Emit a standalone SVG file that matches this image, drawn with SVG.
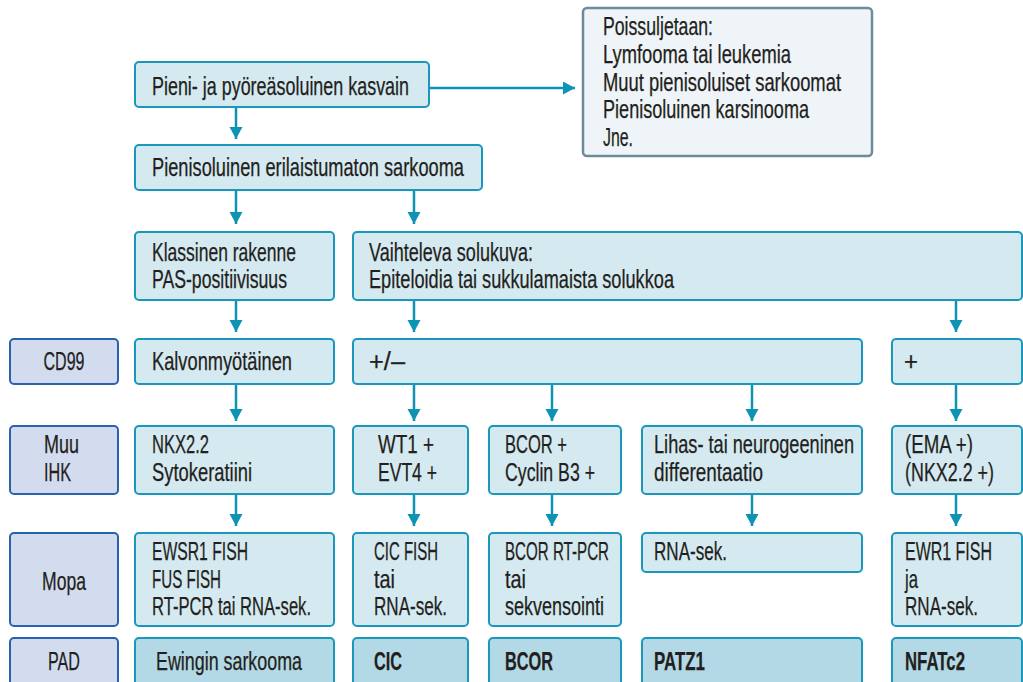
<svg xmlns="http://www.w3.org/2000/svg" width="1023" height="682" viewBox="0 0 1023 682">
<style>
.b{fill:#d5e9f0;stroke:#1a98bb;stroke-width:2}
.d{fill:#b2d9e5;stroke:#1a98bb;stroke-width:2}
.l{fill:#d3dbef;stroke:#2a63ad;stroke-width:2}
.g{fill:#eef4f7;stroke:#6c8b9b;stroke-width:2.5}
text{font-family:"Liberation Sans Narrow","Liberation Sans",Arial,sans-serif;font-size:25px;fill:#231f20;stroke:#231f20;stroke-width:0.25}
.bo{font-weight:bold}
.c{text-anchor:middle}
.a{stroke:#0f93b4;stroke-width:2.5;fill:none;marker-end:url(#ah)}
</style>
<defs>
<marker id="ah" markerUnits="userSpaceOnUse" markerWidth="14" markerHeight="14" refX="12" refY="6.5" orient="auto">
<path d="M0,0 L12,6.5 L0,13 Z" fill="#0f93b4"/>
</marker>
</defs>
<rect width="1023" height="682" fill="#ffffff"/>
<g id="connectors">
<path class="a" d="M236,107 V139"/>
<path class="a" d="M429,88 H575"/>
<path class="a" d="M236,190 V224"/>
<path class="a" d="M414,190 V224"/>
<path class="a" d="M236,300 V332"/>
<path class="a" d="M414,300 V332"/>
<path class="a" d="M956,300 V332"/>
<path class="a" d="M236,384 V421"/>
<path class="a" d="M414,384 V421"/>
<path class="a" d="M552,384 V421"/>
<path class="a" d="M752,384 V421"/>
<path class="a" d="M956,384 V421"/>
<path class="a" d="M236,494 V526"/>
<path class="a" d="M414,494 V526"/>
<path class="a" d="M552,494 V526"/>
<path class="a" d="M752,494 V526"/>
<path class="a" d="M956,494 V526"/>
</g>
<g id="n-start"><rect class="b" x="135" y="62" width="294" height="45" rx="4"/><text x="152" y="95" textLength="257" lengthAdjust="spacingAndGlyphs">Pieni- ja pyöreäsoluinen kasvain</text></g>
<g id="n-exclude"><rect class="g" x="583" y="8" width="289" height="148" rx="4"/>
<text x="603" y="35" textLength="110" lengthAdjust="spacingAndGlyphs">Poissuljetaan:</text>
<text x="603" y="63" textLength="188" lengthAdjust="spacingAndGlyphs">Lymfooma tai leukemia</text>
<text x="603" y="91" textLength="238" lengthAdjust="spacingAndGlyphs">Muut pienisoluiset sarkoomat</text>
<text x="603" y="118" textLength="206" lengthAdjust="spacingAndGlyphs">Pienisoluinen karsinooma</text>
<text x="603" y="146" textLength="30" lengthAdjust="spacingAndGlyphs">Jne.</text></g>
<g id="n-undiff"><rect class="b" x="135" y="145" width="347" height="45" rx="4"/><text x="152" y="176" textLength="312" lengthAdjust="spacingAndGlyphs">Pienisoluinen erilaistumaton sarkooma</text></g>
<g id="n-classic"><rect class="b" x="135" y="232" width="199" height="68" rx="4"/>
<text x="152" y="261" textLength="144" lengthAdjust="spacingAndGlyphs">Klassinen rakenne</text>
<text x="152" y="288" textLength="135" lengthAdjust="spacingAndGlyphs">PAS-positiivisuus</text></g>
<g id="n-variable"><rect class="b" x="353" y="232" width="669" height="68" rx="4"/>
<text x="369" y="261" textLength="164" lengthAdjust="spacingAndGlyphs">Vaihteleva solukuva:</text>
<text x="369" y="288" textLength="305" lengthAdjust="spacingAndGlyphs">Epiteloidia tai sukkulamaista solukkoa</text></g>
<g id="l-cd99"><rect class="l" x="10" y="339" width="108" height="45" rx="4"/><text class="c" x="64" y="370" textLength="41" lengthAdjust="spacingAndGlyphs">CD99</text></g>
<g id="n-membr"><rect class="b" x="135" y="339" width="199" height="45" rx="4"/><text x="152" y="370" textLength="140" lengthAdjust="spacingAndGlyphs">Kalvonmyötäinen</text></g>
<g id="n-pm"><rect class="b" x="353" y="339" width="509" height="45" rx="4"/><text x="369" y="370" textLength="36" lengthAdjust="spacingAndGlyphs">+/–</text></g>
<g id="n-plus"><rect class="b" x="892" y="339" width="130" height="45" rx="4"/><text x="904" y="370" textLength="14" lengthAdjust="spacingAndGlyphs">+</text></g>
<g id="l-ihk"><rect class="l" x="10" y="426" width="108" height="68" rx="4"/>
<text x="44" y="453" textLength="35" lengthAdjust="spacingAndGlyphs">Muu</text>
<text x="44" y="481" textLength="27" lengthAdjust="spacingAndGlyphs">IHK</text></g>
<g id="n-nkx"><rect class="b" x="135" y="426" width="199" height="68" rx="4"/>
<text x="152" y="453" textLength="57" lengthAdjust="spacingAndGlyphs">NKX2.2</text>
<text x="152" y="481" textLength="100" lengthAdjust="spacingAndGlyphs">Sytokeratiini</text></g>
<g id="n-wt1"><rect class="b" x="353" y="426" width="115" height="68" rx="4"/>
<text x="378" y="453" textLength="56" lengthAdjust="spacingAndGlyphs">WT1 +</text>
<text x="378" y="481" textLength="59" lengthAdjust="spacingAndGlyphs">EVT4 +</text></g>
<g id="n-bcor"><rect class="b" x="489" y="426" width="132" height="68" rx="4"/>
<text x="505" y="453" textLength="62" lengthAdjust="spacingAndGlyphs">BCOR +</text>
<text x="505" y="481" textLength="90" lengthAdjust="spacingAndGlyphs">Cyclin B3 +</text></g>
<g id="n-lihas"><rect class="b" x="642" y="426" width="220" height="68" rx="4"/>
<text x="654" y="453" textLength="200" lengthAdjust="spacingAndGlyphs">Lihas- tai neurogeeninen</text>
<text x="654" y="481" textLength="109" lengthAdjust="spacingAndGlyphs">differentaatio</text></g>
<g id="n-ema"><rect class="b" x="892" y="426" width="130" height="68" rx="4"/>
<text x="905" y="453" textLength="68" lengthAdjust="spacingAndGlyphs">(EMA +)</text>
<text x="905" y="481" textLength="89" lengthAdjust="spacingAndGlyphs">(NKX2.2 +)</text></g>
<g id="l-mopa"><rect class="l" x="10" y="533" width="108" height="93" rx="4"/><text class="c" x="64" y="590" textLength="44" lengthAdjust="spacingAndGlyphs">Mopa</text></g>
<g id="n-ewsr"><rect class="b" x="135" y="533" width="199" height="93" rx="4"/>
<text x="152" y="560" textLength="96" lengthAdjust="spacingAndGlyphs">EWSR1 FISH</text>
<text x="152" y="588" textLength="69" lengthAdjust="spacingAndGlyphs">FUS FISH</text>
<text x="152" y="615" textLength="159" lengthAdjust="spacingAndGlyphs">RT-PCR tai RNA-sek.</text></g>
<g id="n-cicfish"><rect class="b" x="353" y="533" width="115" height="93" rx="4"/>
<text x="374" y="560" textLength="64" lengthAdjust="spacingAndGlyphs">CIC FISH</text>
<text x="374" y="588" textLength="21" lengthAdjust="spacingAndGlyphs">tai</text>
<text x="374" y="615" textLength="73" lengthAdjust="spacingAndGlyphs">RNA-sek.</text></g>
<g id="n-bcorpcr"><rect class="b" x="489" y="533" width="132" height="93" rx="4"/>
<text x="505" y="560" textLength="104" lengthAdjust="spacingAndGlyphs">BCOR RT-PCR</text>
<text x="505" y="588" textLength="21" lengthAdjust="spacingAndGlyphs">tai</text>
<text x="505" y="615" textLength="99" lengthAdjust="spacingAndGlyphs">sekvensointi</text></g>
<g id="n-rna"><rect class="b" x="642" y="533" width="220" height="39" rx="4"/>
<text x="654" y="560" textLength="73" lengthAdjust="spacingAndGlyphs">RNA-sek.</text></g>
<g id="n-ewr1"><rect class="b" x="892" y="533" width="130" height="93" rx="4"/>
<text x="905" y="560" textLength="87" lengthAdjust="spacingAndGlyphs">EWR1 FISH</text>
<text x="905" y="588" textLength="13" lengthAdjust="spacingAndGlyphs">ja</text>
<text x="905" y="615" textLength="73" lengthAdjust="spacingAndGlyphs">RNA-sek.</text></g>
<g id="l-pad"><rect class="l" x="10" y="638" width="108" height="56" rx="4"/><text class="c" x="64" y="670" textLength="32" lengthAdjust="spacingAndGlyphs">PAD</text></g>
<g id="p-ewing"><rect class="d" x="135" y="638" width="199" height="56" rx="4"/><text x="156" y="670" textLength="146" lengthAdjust="spacingAndGlyphs">Ewingin sarkooma</text></g>
<g id="p-cic"><rect class="d" x="353" y="638" width="115" height="56" rx="4"/><text class="bo" x="374" y="670" textLength="28" lengthAdjust="spacingAndGlyphs">CIC</text></g>
<g id="p-bcor"><rect class="d" x="489" y="638" width="132" height="56" rx="4"/><text class="bo" x="505" y="670" textLength="48" lengthAdjust="spacingAndGlyphs">BCOR</text></g>
<g id="p-patz1"><rect class="d" x="642" y="638" width="220" height="56" rx="4"/><text class="bo" x="654" y="670" textLength="51" lengthAdjust="spacingAndGlyphs">PATZ1</text></g>
<g id="p-nfatc2"><rect class="d" x="892" y="638" width="130" height="56" rx="4"/><text class="bo" x="905" y="670" textLength="60" lengthAdjust="spacingAndGlyphs">NFATc2</text></g>
</svg>
